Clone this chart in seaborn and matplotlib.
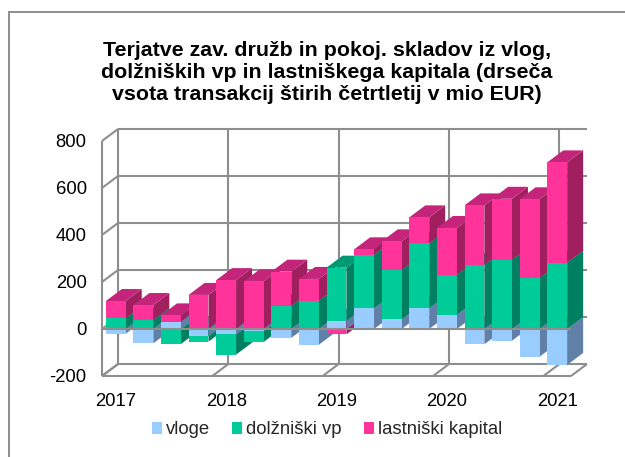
import numpy as np
import seaborn as sns
import matplotlib.pyplot as plt
from matplotlib.patches import Polygon, Rectangle

# quarters, 2017 Q1 .. 2021 Q1 (mio EUR)
quarters = ['2017Q1', '2017Q2', '2017Q3', '2017Q4',
            '2018Q1', '2018Q2', '2018Q3', '2018Q4',
            '2019Q1', '2019Q2', '2019Q3', '2019Q4',
            '2020Q1', '2020Q2', '2020Q3', '2020Q4',
            '2021Q1']
year_labels = ['2017', '2018', '2019', '2020', '2021']
y_ticks = [-200, 0, 200, 400, 600, 800]

vloge = [-20, -61, 31, -30, -23, -9, -38, -67, 35, 88, 41, 88, 60, -65, -50, -118, -153]
dolzniski = [45, 38, -64, -24, -86, -46, 98, 120, 226, 227, 210, 276, 171, 272, 294, 217, 282]
lastniski = [74, 64, 27, 145, 208, 203, 146, 93, -23, 24, 122, 111, 199, 254, 260, 335, 427]

title = ('Terjatve zav. družb in pokoj. skladov iz vlog,\n'
         'dolžniških vp in lastniškega kapitala (drseča\n'
         'vsota transakcij štirih četrtletij v mio EUR)')

# front, side, top colours
series = [('vloge', vloge, '#99CCFF', '#6080A8', '#7CA5CE'),
          ('dolžniški vp', dolzniski, '#00CC99', '#008060', '#009973'),
          ('lastniški kapital', lastniski, '#FF3399', '#A01F5F', '#C4247A')]

sns.set_theme(style='white')
plt.rcParams['font.family'] = ['Liberation Sans', 'DejaVu Sans']
plt.rcParams['axes.unicode_minus'] = False

W, H = 625, 457
DX, DY = 0.58, 51   # depth of the fake 3d box, in data units
GRID = '#8E8E8E'

fig = plt.figure(figsize=(W / 100, H / 100), dpi=100)
ax = fig.add_axes([102 / W, 1 - 376 / H, (587 - 102) / W, (376 - 129) / H])

# stack per bar, positives up and negatives down
pos = np.zeros(len(quarters))
neg = np.zeros(len(quarters))
for name, values, front, side, top in series:
    values = np.array(values, dtype=float)
    bottoms = np.where(values >= 0, pos, neg)
    sns.barplot(x=quarters, y=values, bottom=bottoms, order=quarters, color=front,
                saturation=1, width=0.72, errorbar=None, linewidth=0, ax=ax)
    pos += np.where(values >= 0, values, 0)
    neg += np.where(values < 0, values, 0)

# sides and tops for every front face
for i, cont in enumerate(ax.containers):
    side = series[i][3]
    top = series[i][4]
    for j, bar in enumerate(cont):
        x0, x1 = bar.get_x(), bar.get_x() + bar.get_width()
        y0, y1 = sorted([bar.get_y(), bar.get_y() + bar.get_height()])
        z = 3 + j + (y1 + 500) / 2000
        bar.set_zorder(z + 0.0002)
        ax.add_patch(Polygon([(x1, y0), (x1 + DX, y0 + DY), (x1 + DX, y1 + DY), (x1, y1)],
                             closed=True, fc=side, ec='none', zorder=z))
        ax.add_patch(Polygon([(x0, y1), (x0 + DX, y1 + DY), (x1 + DX, y1 + DY), (x1, y1)],
                             closed=True, fc=top, ec='none', zorder=z + 0.0001))

ax.set_xlim(-0.5, len(quarters) - 0.5 + DX)
ax.set_ylim(-200, 800 + DY)
sns.despine(ax=ax, left=True, bottom=True)

# box: back wall, side wall, floor
xmin, xmax = -0.5, len(quarters) - 0.5
line = dict(color=GRID, lw=1.5, zorder=1, clip_on=False, solid_capstyle='butt')
for v in y_ticks:
    ax.plot([xmin + DX, xmax + DX], [v + DY, v + DY], **line)
    ax.plot([xmin, xmin + DX], [v, v + DY], **line)
for b in np.arange(xmin, xmax + 1, 4):
    ax.plot([b + DX, b + DX], [-200 + DY, 800 + DY], **line)
    ax.plot([b, b + DX], [-200, -200 + DY], **line)
ax.plot([xmax, xmax + DX], [-200, -200 + DY], **line)
ax.plot([xmin, xmin], [-200, 800], **{**line, 'zorder': 1.5})
ax.plot([xmin, xmax], [-200, -200], **{**line, 'zorder': 1.5})
ax.plot([xmin, xmax], [0, 0], **{**line, 'zorder': 40})

ax.set_xticks(range(0, len(quarters), 4), year_labels)
ax.set_yticks(y_ticks)
ax.set_xlabel('')
ax.tick_params(length=0, labelsize=13.3, colors='black')
ax.tick_params(axis='y', pad=11)
ax.tick_params(axis='x', pad=12)

fig.text(327 / W, 1 - 72.5 / H, title, ha='center', va='center', fontsize=15.4,
         fontweight='bold', color='black', linespacing=1.2)

handles = [Rectangle((0, 0), 1, 1, fc=s[2], ec='none') for s in series]
fig.legend(handles, [s[0] for s in series], loc='center', bbox_to_anchor=(327 / W, 1 - 430 / H),
           ncol=3, frameon=False, fontsize=13.3, handlelength=0.55, handleheight=0.55,
           handletextpad=0.2, columnspacing=1.2)

# chart frame, runs off the right and bottom of the picture
fig.add_artist(Rectangle((9 / W, -0.02), 1.0, 1.02 - 12 / H, transform=fig.transFigure,
                         fc='none', ec=GRID, lw=1.4))

fig.savefig('out.png', dpi=100)
